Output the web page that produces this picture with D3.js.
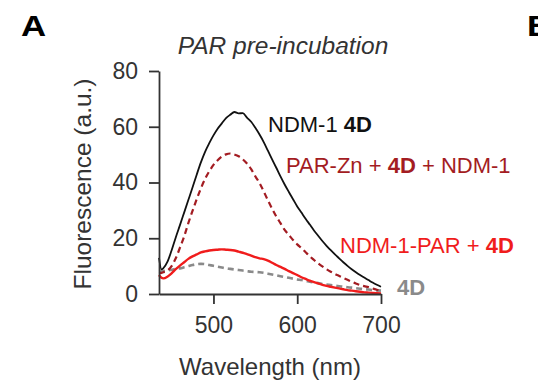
<!DOCTYPE html>
<html>
<head>
<meta charset="utf-8">
<script src="https://cdn.jsdelivr.net/npm/d3@7"></script>
<style>
  body { margin: 0; background: #fff; }
  text { font-family: "Liberation Sans", Arial, sans-serif; }
</style>
</head>
<body>
<div id="chart"></div>
<script>
var wavelengths = [435, 438, 440, 445, 450, 455, 460, 465, 470, 475, 480, 485, 490, 495, 500,
  505, 510, 515, 520, 525, 530, 535, 540, 545, 550, 555, 560, 565, 570, 575, 580, 585, 590,
  595, 600, 605, 610, 615, 620, 625, 630, 635, 640, 645, 650, 655, 660, 665, 670, 675, 680,
  685, 690, 695, 700]

// NDM-1 4D (black)
var ndm4d = [13.0, 8.8, 9.2, 11.5, 15.6, 20.3, 24.7, 29.2, 33.7, 38.2, 42.8, 47.2, 51.0, 54.1, 56.9,
  59.3, 61.2, 63.1, 64.3, 65.3, 64.8, 64.9, 63.3, 61.8, 59.6, 57.2, 54.5, 51.4, 48.3, 45.3, 42.2, 39.3, 36.6,
  34.0, 31.4, 29.2, 27.0, 24.9, 22.8, 20.9, 19.0, 17.3, 15.7, 14.2, 12.8, 11.4, 10.1, 8.9, 7.8, 6.8, 5.9,
  5.0, 4.1, 3.3, 2.6]

// PAR-Zn + 4D + NDM-1 (dark red dashed)
var parZn = [7.5, 7.6, 7.8, 8.4, 10.0, 12.8, 16.6, 20.6, 25.4, 29.8, 34.0, 37.9, 41.3, 44.0, 46.3,
  48.0, 49.3, 50.1, 50.4, 50.0, 49.4, 48.3, 46.8, 44.8, 42.2, 39.8, 36.8, 33.6, 30.6, 27.8, 25.4, 23.0, 21.2,
  19.4, 17.8, 16.5, 15.0, 13.5, 12.2, 11.0, 9.9, 8.9, 8.0, 7.2, 6.5, 5.8, 5.1, 4.4, 3.8, 3.2, 2.8,
  2.5, 2.0, 1.5, 1.0]

// NDM-1-PAR + 4D (red)
var ndmPar = [6.8, 5.8, 5.6, 6.2, 7.4, 8.9, 10.2, 11.4, 12.6, 13.5, 14.2, 14.9, 15.3, 15.6, 15.8,
  15.9, 16.0, 15.9, 15.8, 15.6, 15.2, 14.8, 14.3, 13.8, 13.2, 12.8, 12.5, 12.0, 11.2, 10.4, 9.7, 9.0, 8.2,
  7.5, 6.8, 6.0, 5.4, 4.8, 4.3, 3.8, 3.3, 2.9, 2.6, 2.3, 2.0, 1.7, 1.4, 1.2, 1.0, 0.8, 0.6,
  0.5, 0.4, 0.3, 0.2]

// 4D alone (grey dashed)
var fourD = [8.0, 8.1, 8.2, 8.4, 8.7, 9.0, 9.2, 9.6, 10.0, 10.4, 10.7, 10.8, 10.7, 10.4, 10.1,
  9.8, 9.5, 9.2, 9.0, 8.8, 8.6, 8.4, 8.2, 8.0, 7.9, 7.8, 7.6, 7.3, 7.0, 6.7, 6.4, 6.1, 5.8,
  5.5, 5.2, 5.0, 4.7, 4.4, 4.1, 3.9, 3.6, 3.4, 3.2, 3.0, 2.8, 2.6, 2.4, 2.3, 2.1, 1.9, 1.7,
  1.6, 1.4, 1.3, 1.2]

var yTicks = [0, 20, 40, 60, 80]
var xTicks = [500, 600, 700]

var series = [
  {values: fourD, color: '#8a8a8a', width: 2.6, dash: '6,4'},
  {values: ndmPar, color: '#f01c1c', width: 2.4, dash: null},
  {values: parZn, color: '#a31c22', width: 2.2, dash: '6,4'},
  {values: ndm4d, color: '#111', width: 1.8, dash: null}
]

var svg = d3.select('#chart').append('svg')
  .attr('width', 538).attr('height', 391)

svg.append('rect').attr('width', 538).attr('height', 391).attr('fill', '#fff')

var x = d3.scaleLinear().domain([435, 700]).range([159, 381])
var y = d3.scaleLinear().domain([0, 80]).range([294, 71])

var line = d3.line()
  .x(function(d){ return x(d[0]) })
  .y(function(d){ return y(d[1]) })
  .curve(d3.curveMonotoneX)

series.forEach(function(s){
  svg.append('path')
    .attr('d', line(wavelengths.map(function(w, i){ return [w, s.values[i]] })))
    .attr('fill', 'none')
    .attr('stroke', s.color)
    .attr('stroke-width', s.width)
    .attr('stroke-dasharray', s.dash)
    .attr('stroke-linejoin', 'round')
})

// axes
var yAxis = svg.append('g')
  .attr('transform', 'translate(' + x.range()[0] + ',0)')
  .call(d3.axisLeft(y).tickValues(yTicks).tickSize(10).tickSizeOuter(0).tickPadding(11))

var xAxis = svg.append('g')
  .attr('transform', 'translate(0,' + y.range()[0] + ')')
  .call(d3.axisBottom(x).tickValues(xTicks).tickSize(10).tickSizeOuter(0).tickPadding(13))

;[yAxis, xAxis].forEach(function(g){
  g.select('.domain').attr('stroke', '#333').attr('stroke-width', 1.8)
  g.selectAll('.tick line').attr('stroke', '#333').attr('stroke-width', 1.8)
  g.selectAll('.tick text')
    .attr('fill', '#333')
    .style('font-size', '23px')
    .style('font-family', '"Liberation Sans", Arial, sans-serif')
})

// titles
svg.append('text')
  .attr('x', 283).attr('y', 54)
  .attr('text-anchor', 'middle')
  .style('font-size', '24.5px').style('font-style', 'italic')
  .attr('fill', '#333')
  .text('PAR pre-incubation')

svg.append('text')
  .attr('x', 270).attr('y', 375)
  .attr('text-anchor', 'middle')
  .style('font-size', '24px')
  .attr('fill', '#333')
  .text('Wavelength (nm)')

svg.append('text')
  .attr('transform', 'translate(91,184) rotate(-90)')
  .attr('text-anchor', 'middle')
  .style('font-size', '24.5px')
  .attr('fill', '#333')
  .text('Fluorescence (a.u.)')

svg.append('text')
  .attr('transform', 'translate(21,36) scale(1.2,1)')
  .style('font-size', '29px').style('font-weight', 'bold')
  .attr('fill', '#000')
  .text('A')

svg.append('text')
  .attr('transform', 'translate(527,36) scale(1.2,1)')
  .style('font-size', '29px').style('font-weight', 'bold')
  .attr('fill', '#000')
  .text('B')

// curve labels
var labels = [
  {x: 268, y: 132, color: '#111', parts: [['NDM-1 ', 'normal'], ['4D', 'bold']]},
  {x: 286, y: 173, color: '#a31c22', parts: [['PAR-Zn + ', 'normal'], ['4D', 'bold'], [' + NDM-1', 'normal']]},
  {x: 340, y: 253, color: '#f01c1c', parts: [['NDM-1-PAR + ', 'normal'], ['4D', 'bold']]},
  {x: 397, y: 295, color: '#8a8a8a', parts: [['4D', 'bold']]}
]

labels.forEach(function(l){
  var t = svg.append('text')
    .attr('x', l.x).attr('y', l.y)
    .attr('fill', l.color)
    .style('font-size', '22px')
  l.parts.forEach(function(p){
    t.append('tspan').style('font-weight', p[1]).style('white-space', 'pre').text(p[0])
  })
})
</script>
</body>
</html>
